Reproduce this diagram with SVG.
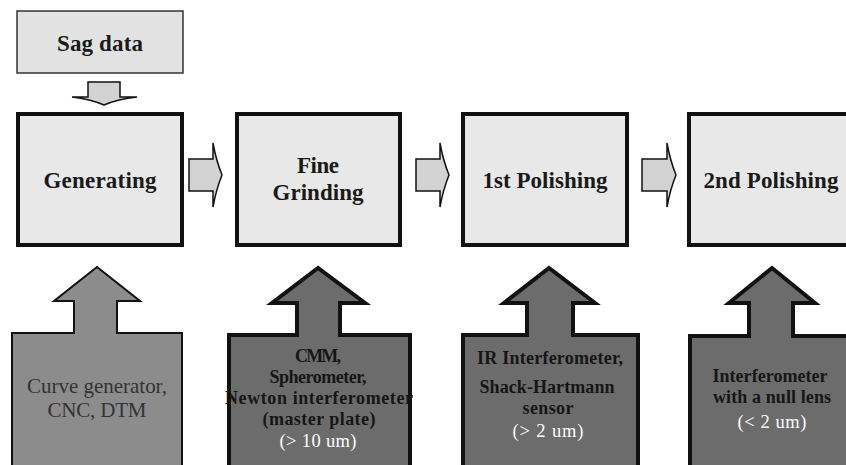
<svg xmlns="http://www.w3.org/2000/svg" width="846" height="465" viewBox="0 0 846 465">
<style>
.bg{fill:#ffffff}
.proc{fill:#e8e8e8;stroke:#111;stroke-width:4}
.sag{fill:#e2e2e2;stroke:#333;stroke-width:1.5}
.arr{fill:#d2d2d2;stroke:#111;stroke-width:1.5;stroke-linejoin:miter}
.tool1{fill:#8c8c8c;stroke:#111;stroke-width:2}
.tool{fill:#6c6c6c;stroke:#111;stroke-width:4}
text{font-family:'Liberation Serif','Times New Roman',Tinos,serif;text-anchor:middle}
.lbl{font-weight:bold;font-size:23px;fill:#1a1a1a}
.t1{font-size:21px;fill:#333}
.tb{font-weight:bold;font-size:18px;fill:#161616}
.tw{font-size:18.5px;fill:#ffffff}
</style>
<rect class="bg" x="0" y="0" width="846" height="465"/>
<g id="sag-data">
<rect class="sag" x="17" y="11" width="166" height="62"/>
<text class="lbl" x="100" y="51" textLength="86">Sag data</text>
</g>
<g id="generating">
<rect class="proc" x="18" y="114" width="164" height="131"/>
<text class="lbl" x="100" y="188" textLength="113">Generating</text>
</g>
<g id="fine-grinding">
<rect class="proc" x="237" y="114" width="163" height="131"/>
<text class="lbl" x="318" y="173" textLength="42">Fine</text>
<text class="lbl" x="318" y="200" textLength="91">Grinding</text>
</g>
<g id="first-polishing">
<rect class="proc" x="463" y="114" width="164" height="131"/>
<text class="lbl" x="545" y="188" textLength="125">1st Polishing</text>
</g>
<g id="second-polishing">
<rect class="proc" x="689" y="114" width="170" height="131"/>
<text class="lbl" x="771" y="188" textLength="135">2nd Polishing</text>
</g>
<g id="connectors">
<path class="arr" d="M88,82 H120 V97 H137 Q118,99 104,105 Q90,99 72,97 H88 Z"/>
<path class="arr" d="M189,159 H213 V143 Q216,160 222,175 Q216,190 213,207 V191 H189 Z"/>
<path class="arr" d="M416,159 H440 V143 Q443,160 449,175 Q443,190 440,207 V191 H416 Z"/>
<path class="arr" d="M642,159 H667 V143 Q670,160 676,175 Q670,190 667,207 V191 H642 Z"/>
</g>
<g id="tool-generating">
<path class="tool1" d="M12,333 H74 V301 H54 L97,267 L140,301 H117 V333 H182 V475 H12 Z"/>
<text class="t1" x="97" y="393" textLength="140">Curve generator,</text>
<text class="t1" x="97" y="417" textLength="99">CNC, DTM</text>
</g>
<g id="tool-grinding">
<path class="tool" d="M229,335 H297 V303 H272 L318,268 L365,303 H340 V335 H410 V475 H229 Z"/>
<text class="tb" x="318" y="362" textLength="46">CMM,</text>
<text class="tb" x="318" y="383" textLength="97">Spherometer,</text>
<text class="tb" x="319" y="404" textLength="188">Newton interferometer</text>
<text class="tb" x="319" y="425" textLength="113">(master plate)</text>
<text class="tw" x="318" y="447" textLength="77">(&gt; 10 um)</text>
<path d="M229,335 V475 M410,335 V475" fill="none" stroke="#111" stroke-width="4"/>
</g>
<g id="tool-polish1">
<path class="tool" d="M463,335 H527 V303 H504 L549,268 L595,303 H573 V335 H638 V475 H463 Z"/>
<text class="tb" x="550" y="364" textLength="146">IR Interferometer,</text>
<text class="tb" x="547" y="393" textLength="135">Shack-Hartmann</text>
<text class="tb" x="548" y="414" textLength="51">sensor</text>
<text class="tw" x="548" y="437" textLength="71">(&gt; 2 um)</text>
</g>
<g id="tool-polish2">
<path class="tool" d="M690,336 H749 V303 H729 L772,268 L815,303 H793 V336 H860 V475 H690 Z"/>
<text class="tb" x="770" y="382" textLength="115">Interferometer</text>
<text class="tb" x="772" y="403" textLength="118">with a null lens</text>
<text class="tw" x="772" y="428" textLength="69">(&lt; 2 um)</text>
</g>
</svg>
